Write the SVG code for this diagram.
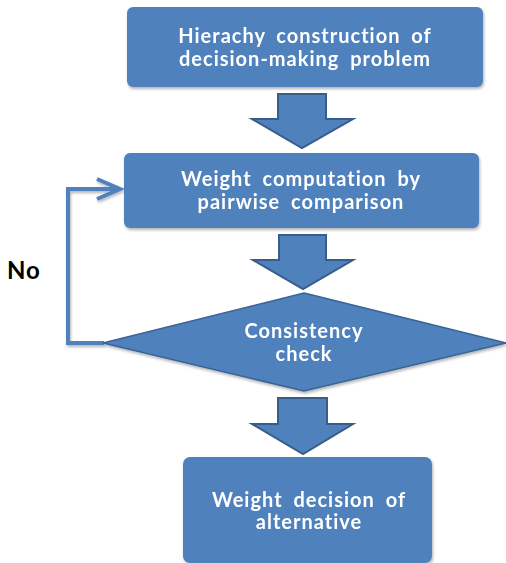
<svg xmlns="http://www.w3.org/2000/svg" width="506" height="563" viewBox="0 0 506 563">
<defs>
<filter id="sh" x="-10%" y="-10%" width="120%" height="130%">
<feGaussianBlur in="SourceAlpha" stdDeviation="1.5"/>
<feOffset dx="1" dy="2" result="b"/>
<feComponentTransfer><feFuncA type="linear" slope="0.3"/></feComponentTransfer>
<feMerge><feMergeNode/><feMergeNode in="SourceGraphic"/></feMerge>
</filter>
</defs>
<style>
.box{fill:#4F81BD;}
.dia{fill:#4F81BD;stroke:#3A6496;stroke-width:1.5;}
.arr{fill:#4F81BD;stroke:#385D8A;stroke-width:2;stroke-linejoin:miter;}
.t{fill:#FFFFFF;font-family:Lato,"Open Sans",sans-serif;font-weight:bold;font-size:20px;letter-spacing:1px;word-spacing:5px;text-anchor:middle;}
.no{fill:#000000;font-family:Lato,"Open Sans",sans-serif;font-weight:bold;font-size:24px;letter-spacing:1px;}
.loop{fill:none;stroke:#4F81BD;stroke-width:4;}
</style>
<g id="connectors">
<polygon class="arr" points="278,94 326,94 326,119 353,119 302,148 252,119 278,119"/>
<polygon class="arr" points="279,235 326,235 326,260 353,260 303,289 253,260 279,260"/>
<polygon class="arr" points="278,398 327,398 327,424 353,424 303,454 252,424 278,424"/>
<g filter="url(#sh)">
<polyline class="loop" points="104,343 68,343 68,189 119,189"/>
<polyline class="loop" points="97,179 120,189 97,199"/>
</g>
<text class="no" x="7" y="279">No</text>
</g>
<g id="n1" filter="url(#sh)">
<rect class="box" x="127" y="7" width="356" height="80" rx="6"/>
<text class="t" x="305" y="43">Hierachy construction of</text>
<text class="t" x="305" y="66">decision-making problem</text>
</g>
<g id="n2" filter="url(#sh)">
<rect class="box" x="124" y="153" width="355" height="75" rx="6"/>
<text class="t" x="301" y="186">Weight computation by</text>
<text class="t" x="301" y="209">pairwise comparison</text>
</g>
<g id="n3" filter="url(#sh)">
<polygon class="dia" points="304,293 506,343 304,391 103,343"/>
<text class="t" x="304" y="338">Consistency</text>
<text class="t" x="304" y="361">check</text>
</g>
<g id="n4" filter="url(#sh)">
<rect class="box" x="183" y="457" width="249" height="106" rx="7"/>
<text class="t" x="309" y="507">Weight decision of</text>
<text class="t" x="309" y="529">alternative</text>
</g>
</svg>
